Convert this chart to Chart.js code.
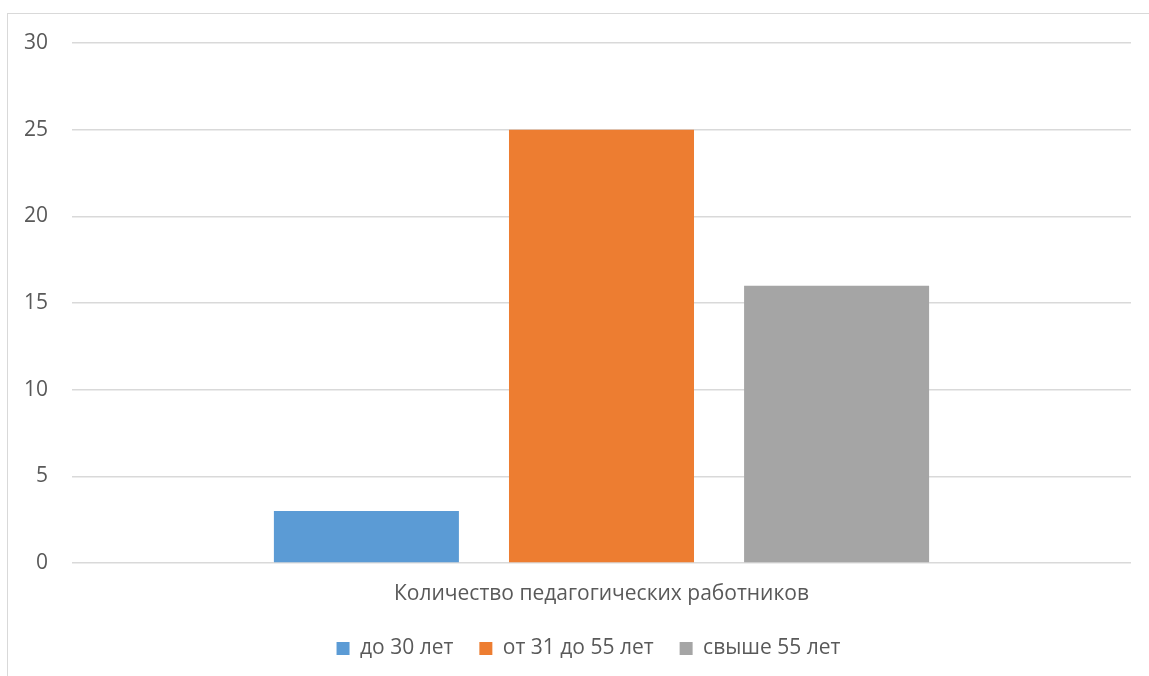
<!DOCTYPE html>
<html>
<head>
<meta charset="utf-8">
<script src="https://cdn.jsdelivr.net/npm/chart.js@4"></script>
<style>
  html, body { margin: 0; padding: 0; background: #fff; overflow: hidden; }
  #wrap { position: relative; width: 1149px; height: 676px; }
  #frame { position: absolute; left: 7px; top: 13px; width: 1160px; height: 700px; border: 1.5px solid #d9d9d9; box-sizing: border-box; }
  canvas { position: absolute; left: 0; top: 0; }
</style>
</head>
<body>
<div id="wrap">
  <div id="frame"></div>
  <canvas id="chart" width="1149" height="676"></canvas>
</div>
<script>
// --- данные ---
const categories = ['Количество педагогических работников'];
const seriesNames = ['до 30 лет', 'от 31 до 55 лет', 'свыше 55 лет'];
const seriesValues = [[3], [25], [16]];
const seriesColors = ['#5B9BD5', '#ED7D31', '#A5A5A5'];
const yTicks = [0, 5, 10, 15, 20, 25, 30];

const textColor = '#595959';
const fontFamily = "'Open Sans', 'Noto Sans', sans-serif";

const datasets = seriesNames.map((name, i) => ({
    label: name,
    data: seriesValues[i],
    backgroundColor: seriesColors[i],
    borderWidth: 0,
    categoryPercentage: 0.666,
    barPercentage: 0.787
}));

// легенда в оригинале чуть сдвинута вправо
const shiftLegend = {
    id: 'shiftLegend',
    afterLayout(chart) {
        if (chart.legend) {
            chart.legend.left += 23;
            chart.legend.right += 23;
        }
    }
};

new Chart(document.getElementById('chart').getContext('2d'), {
    type: 'bar',
    data: { labels: categories, datasets: datasets },
    plugins: [shiftLegend],
    options: {
        responsive: false,
        animation: false,
        devicePixelRatio: 1,
        layout: { padding: { top: 43, right: 18, bottom: 7, left: 0 } },
        scales: {
            x: {
                grid: { display: false, drawTicks: false },
                border: { display: false },
                ticks: { color: textColor, font: { family: fontFamily, size: 21 }, padding: 18 },
                afterFit: (scale) => { scale.height = 49; }
            },
            y: {
                min: yTicks[0],
                max: yTicks[yTicks.length - 1],
                grid: { color: '#d9d9d9', lineWidth: 1.5, drawTicks: false },
                border: { display: false },
                ticks: { stepSize: 5, color: textColor, font: { family: fontFamily, size: 21 }, padding: 24 },
                afterFit: (scale) => { scale.width = 72; }
            }
        },
        plugins: {
            legend: {
                position: 'bottom',
                labels: {
                    boxWidth: 13,
                    boxHeight: 13,
                    padding: 26,
                    color: textColor,
                    font: { family: fontFamily, size: 21 }
                }
            },
            tooltip: { enabled: false }
        }
    }
});
</script>
</body>
</html>
